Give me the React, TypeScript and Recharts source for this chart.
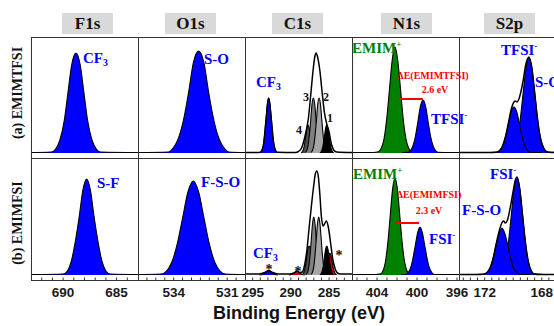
import React from "react";
import { Area, ComposedChart, Line, XAxis, YAxis } from "recharts";

const BLUE = "#0000ff";
const GREEN = "#008000";
const RED = "#ff0000";
const SERIF = '"Liberation Serif", "Times New Roman", serif';
const SANS = '"Liberation Sans", Arial, sans-serif';

// ---- axes: domains, minor ticks, labelled ticks
const f1sDomain = [683, 693];
const f1sTicks = [684, 685, 686, 687, 688, 689, 690, 691, 692];
const f1sLabels = [690, 685];
const o1sDomain = [530, 536];
const o1sTicks = [530.5, 531, 531.5, 532, 532.5, 533, 533.5, 534, 534.5, 535, 535.5];
const o1sLabels = [534, 531];
const c1sDomain = [282, 296];
const c1sTicks = [283, 284, 285, 286, 287, 288, 289, 290, 291, 292, 293, 294, 295];
const c1sLabels = [295, 290, 285];
const n1sDomain = [395.8, 406.5];
const n1sTicks = [396, 397, 398, 399, 400, 401, 402, 403, 404, 405, 406];
const n1sLabels = [404, 400, 396];
const s2pDomain = [166.3, 173.8];
const s2pTicks = [166.5, 167, 167.5, 168, 168.5, 169, 169.5, 170, 170.5, 171, 171.5, 172, 172.5, 173, 173.5];
const s2pLabels = [172, 168];

// ---- (a) EMIMTFSI
const f1sTopE = [693, 691.1, 690.7, 690.3, 689.9, 689.55, 689.2, 688.8, 688.4, 688.05, 687.7, 687.3, 686.9, 686.5, 683];
const f1sTopI = [0.5, 1, 4, 13, 32, 60, 88, 100, 88, 60, 32, 13, 4, 1, 0.5];
const o1sTopE = [536, 534.3, 534.05, 533.75, 533.45, 533.15, 532.9, 532.6, 532.3, 532.05, 531.75, 531.45, 531.15, 530.9, 530];
const o1sTopI = [0.5, 1, 4.5, 14, 33, 62, 90, 102, 90, 62, 33, 14, 4.5, 1, 0.5];

const c1sTopEnvE = [296, 294.4, 294.0, 293.6, 293.25, 292.9, 292.55, 292.2, 291.8, 289.4, 289.0, 288.6, 288.3, 288.0, 287.7, 287.4, 287.1, 286.85, 286.7, 286.5, 286.2, 285.9, 285.6, 285.3, 285.0, 284.7, 284.4, 284.0, 282];
const c1sTopEnvI = [0.5, 0.5, 0.8, 7.5, 33, 55, 33, 7.5, 0.8, 0.5, 1.5, 5, 12, 22, 35, 58, 82, 97, 100, 96, 82, 60, 40, 29, 21, 9, 3, 1, 0.5];
const c1sTopCf3E = [293.95, 293.78, 293.6, 293.43, 293.25, 293.08, 292.9, 292.73, 292.55, 292.38, 292.2, 292.03, 291.85];
const c1sTopCf3I = [0.6, 2.4, 7.4, 18, 33, 49, 55, 49, 33, 18, 7.4, 2.4, 0.6];
const c1sTop4E = [288.65, 288.5, 288.35, 288.2, 288.05, 287.9, 287.75, 287.6, 287.45, 287.3, 287.15, 287.0, 286.85];
const c1sTop4I = [0.3, 1.2, 3.8, 9.1, 17, 25, 28, 25, 17, 9.1, 3.8, 1.2, 0.3];
const c1sTop3E = [288.1, 287.93, 287.75, 287.58, 287.4, 287.23, 287.05, 286.88, 286.7, 286.53, 286.35, 286.18, 286.0];
const c1sTop3I = [0.6, 2.4, 7.4, 18, 33, 49, 55, 49, 33, 18, 7.4, 2.4, 0.6];
const c1sTop2E = [287.35, 287.18, 287.0, 286.83, 286.65, 286.48, 286.3, 286.13, 285.95, 285.78, 285.6, 285.43, 285.25];
const c1sTop2I = [0.6, 2.4, 7.4, 18, 33, 49, 55, 49, 33, 18, 7.4, 2.4, 0.6];
const c1sTop1E = [286.2, 286.05, 285.9, 285.75, 285.6, 285.45, 285.3, 285.15, 285.0, 284.85, 284.7, 284.55, 284.4];
const c1sTop1I = [0.3, 1.2, 3.8, 9.1, 17, 25, 28, 25, 17, 9.1, 3.8, 1.2, 0.3];

const n1sTopEmimE = [406.5, 404.4, 403.85, 403.58, 403.3, 403.03, 402.75, 402.48, 402.2, 401.93, 401.65, 401.38, 401.1, 400.83, 400.55, 400.0];
const n1sTopEmimI = [0.5, 0.5, 1.2, 4.7, 14, 34, 64, 93, 106, 93, 64, 34, 14, 4.7, 1.2, 0.5];
const n1sTopAnionE = [401.5, 400.9, 400.65, 400.4, 400.15, 399.9, 399.65, 399.4, 399.15, 398.9, 398.65, 398.4, 398.15, 397.9, 397.3, 395.8];
const n1sTopAnionI = [0.5, 0.6, 2.3, 7.2, 17, 32, 47, 53, 47, 32, 17, 7.2, 2.3, 0.6, 0.5, 0.5];
const n1sTopDeltaE = [401.8, 399.4];
const n1sTopDeltaI = [54, 54];

const s2pTopMainE = [170.9, 170.16, 169.95, 169.74, 169.53, 169.32, 169.11, 168.9, 168.69, 168.48, 168.27, 168.06, 167.85, 167.64, 166.9];
const s2pTopMainI = [0.5, 1, 4.2, 13, 31, 58, 84, 95, 84, 58, 31, 13, 4.2, 1, 0.5];
const s2pTopLeftE = [171.9, 171.15, 170.95, 170.75, 170.55, 170.35, 170.15, 169.95, 169.75, 169.55, 169.35, 169.15, 168.95, 168.75, 168.0];
const s2pTopLeftI = [0.5, 0.5, 2, 6.2, 15, 28, 41, 46, 41, 28, 15, 6.2, 2, 0.5, 0.5];
const s2pTopEnvE = [173.8, 171.6, 171.15, 170.95, 170.75, 170.55, 170.35, 170.15, 169.95, 169.85, 169.74, 169.6, 169.45, 169.32, 169.11, 168.9, 168.69, 168.48, 168.27, 168.06, 167.85, 167.64, 167.3, 166.3];
const s2pTopEnvI = [0.5, 0.5, 1, 2.5, 7, 16, 29, 43, 51, 52, 51, 54, 62, 71, 89, 96, 85, 58, 31, 13, 4.5, 1.2, 0.5, 0.5];

// ---- (b) EMIMFSI
const f1sBotE = [693, 690.0, 689.6, 689.25, 688.9, 688.5, 688.15, 687.8, 687.45, 687.1, 686.7, 686.35, 686.0, 685.6, 683];
const f1sBotI = [0.5, 1, 4, 13, 31, 58, 85, 96, 85, 58, 31, 13, 4, 1, 0.5];
const o1sBotE = [536, 534.7, 534.4, 534.1, 533.8, 533.5, 533.2, 532.9, 532.6, 532.3, 532.0, 531.7, 531.4, 531.1, 530];
const o1sBotI = [0.5, 1, 4, 13, 31, 57, 83, 94, 83, 57, 31, 13, 4, 1, 0.5];

const c1sBotEnvE = [296, 294.2, 293.4, 292.9, 292.4, 291.6, 290.2, 289.6, 289.2, 288.8, 288.5, 288.2, 287.9, 287.6, 287.3, 287.0, 286.8, 286.6, 286.4, 286.2, 286.0, 285.8, 285.6, 285.35, 285.1, 284.8, 284.5, 284.2, 283.9, 283.5, 282];
const c1sBotEnvI = [1, 1, 2.5, 4.5, 2.5, 1, 1, 2, 4, 2.5, 3, 10, 25, 48, 70, 90, 101, 104, 98, 80, 58, 49, 51, 54, 48, 32, 15, 6, 2, 1, 1];
const c1sBotCf3E = [294.1, 293.7, 293.3, 292.9, 292.5, 292.1, 291.7];
const c1sBotCf3I = [0, 0.5, 2.4, 4, 2.4, 0.5, 0];
const c1sBotSmallRedE = [290.25, 289.9, 289.55, 289.2, 288.85, 288.5, 288.15];
const c1sBotSmallRedI = [0, 0.5, 2.1, 3.5, 2.1, 0.5, 0];
const c1sBotDarkE = [288.56, 288.4, 288.24, 288.08, 287.92, 287.76, 287.6, 287.44, 287.28, 287.12, 286.96, 286.8, 286.64];
const c1sBotDarkI = [0.3, 1.3, 3.9, 9.4, 18, 26, 29, 26, 18, 9.4, 3.9, 1.3, 0.3];
const c1sBotMidE = [287.99, 287.83, 287.66, 287.5, 287.33, 287.17, 287.0, 286.84, 286.67, 286.5, 286.34, 286.17, 286.01];
const c1sBotMidI = [0.6, 2.6, 7.8, 19, 35, 51, 58, 51, 35, 19, 7.8, 2.6, 0.6];
const c1sBotLightE = [287.34, 287.18, 287.01, 286.85, 286.68, 286.52, 286.35, 286.19, 286.02, 285.86, 285.69, 285.53, 285.36];
const c1sBotLightI = [0.6, 2.6, 7.8, 19, 35, 51, 58, 51, 35, 19, 7.8, 2.6, 0.6];
const c1sBotRedE = [285.8, 285.65, 285.5, 285.35, 285.2, 285.05, 284.9, 284.75, 284.6, 284.45, 284.3, 284.15, 284.0];
const c1sBotRedI = [0.2, 1, 3, 7.1, 13, 19, 22, 19, 13, 7.1, 3, 1, 0.2];
const c1sBotBlackE = [286.2, 286.05, 285.9, 285.75, 285.6, 285.45, 285.3, 285.15, 285.0, 284.85, 284.7, 284.55, 284.4];
const c1sBotBlackI = [0.3, 1.3, 3.9, 9.4, 18, 26, 29, 26, 18, 9.4, 3.9, 1.3, 0.3];

const n1sBotEmimE = [406.5, 404.2, 403.64, 403.4, 403.16, 402.92, 402.68, 402.44, 402.2, 401.96, 401.72, 401.48, 401.24, 401.0, 400.76, 400.2];
const n1sBotEmimI = [0.5, 0.5, 1.1, 4.3, 13, 32, 59, 86, 97, 86, 59, 32, 13, 4.3, 1.1, 0.5];
const n1sBotAnionE = [401.6, 401.14, 400.9, 400.66, 400.42, 400.18, 399.94, 399.7, 399.46, 399.22, 398.98, 398.74, 398.5, 398.26, 397.7, 395.8];
const n1sBotAnionI = [0.5, 0.5, 2.1, 6.5, 16, 29, 42, 48, 42, 29, 16, 6.5, 2.1, 0.5, 0.5, 0.5];
const n1sBotDeltaE = [402.1, 399.8];
const n1sBotDeltaI = [52, 52];

const s2pBotMainE = [171.7, 170.94, 170.74, 170.54, 170.34, 170.14, 169.94, 169.74, 169.54, 169.34, 169.14, 168.94, 168.74, 168.54, 167.8];
const s2pBotMainI = [0.5, 1.1, 4.3, 13, 32, 59, 86, 98, 86, 59, 32, 13, 4.3, 1.1, 0.5];
const s2pBotLeftE = [172.8, 172.05, 171.84, 171.63, 171.42, 171.21, 171.0, 170.79, 170.58, 170.37, 170.16, 169.95, 169.74, 169.53, 168.8];
const s2pBotLeftI = [0.5, 0.5, 2.1, 6.3, 15, 29, 41, 47, 41, 29, 15, 6.3, 2.1, 0.5, 0.5];
const s2pBotEnvE = [173.8, 172.6, 172.05, 171.84, 171.63, 171.42, 171.21, 171.0, 170.8, 170.68, 170.55, 170.4, 170.2, 170.0, 169.85, 169.74, 169.54, 169.34, 169.14, 168.94, 168.74, 168.54, 168.1, 166.3];
const s2pBotEnvI = [0.5, 0.5, 1, 2.5, 7, 16, 30, 43, 52, 54, 52, 55, 68, 84, 95, 98, 86, 59, 32, 13, 4.3, 1.1, 0.5, 0.5];

const rows = (e: number[], v: number[]) => e.map((x, i) => ({ e: x, v: v[i] }));

type Peak = { e: number[]; v: number[]; fill: string };
type Trace = { e: number[]; v: number[]; color: string; width: number; curve?: "monotone" | "linear" };

function BottomTick(props: any) {
  const { x, y, payload, labels } = props;
  const show = labels.includes(payload.value);
  return (
    <g>
      <line x1={x} y1={y} x2={x} y2={y - 2.5} stroke="#333" strokeWidth={1} />
      {show && (
        <text x={x} y={y + 17} textAnchor="middle" fontFamily={SANS} fontWeight="bold" fontSize={13.5} fill="#1a1a1a">
          {payload.value}
        </text>
      )}
    </g>
  );
}

function TopTick(props: any) {
  const { x, y } = props;
  return <line x1={x} y1={y} x2={x} y2={y + 2.5} stroke="#333" strokeWidth={1} />;
}

function Panel({
  left, top, h, yMax, domain, ticks, labels, peaks, traces,
}: {
  left: number; top: number; h: number; yMax: number; domain: number[]; ticks: number[];
  labels: number[]; peaks: Peak[]; traces: Trace[];
}) {
  const axisH = labels.length ? 30 : 0;
  return (
    <div style={{ position: "absolute", left, top }}>
      <ComposedChart width={107} height={h + axisH} margin={{ top: 0, right: 0, bottom: 0, left: 0 }}>
        <XAxis
          dataKey="e" type="number" domain={domain} reversed allowDataOverflow ticks={ticks} interval={0}
          height={axisH} axisLine={false} tickLine={false} tickSize={0} tickMargin={0}
          tick={(p: any) => <BottomTick {...p} labels={labels} />}
        />
        <XAxis
          xAxisId="top" orientation="top" dataKey="e" type="number" domain={domain} reversed allowDataOverflow
          ticks={ticks} interval={0} height={0} axisLine={false} tickLine={false} tickSize={0} tickMargin={0}
          tick={(p: any) => <TopTick {...p} />}
        />
        <YAxis hide type="number" domain={[-5, yMax]} allowDataOverflow />
        {peaks.map((p, i) => (
          <Area
            key={"a" + i} data={rows(p.e, p.v)} dataKey="v" type="monotone" baseValue={0}
            fill={p.fill} fillOpacity={1} stroke="#000" strokeWidth={1.1}
            dot={false} activeDot={false} isAnimationActive={false}
          />
        ))}
        {traces.map((t, i) => (
          <Line
            key={"l" + i} data={rows(t.e, t.v)} dataKey="v" type={t.curve ?? "monotone"}
            stroke={t.color} strokeWidth={t.width} dot={false} activeDot={false} isAnimationActive={false}
          />
        ))}
      </ComposedChart>
    </div>
  );
}

function Note({
  x, y, children, color = BLUE, size = 15, center = false, font = SERIF,
}: { x: number; y: number; children: React.ReactNode; color?: string; size?: number; center?: boolean; font?: string }) {
  return (
    <div
      style={{
        position: "absolute", left: x, top: y, transform: `translate(${center ? "-50%" : "0"}, -50%)`,
        color, fontSize: size, fontFamily: font, fontWeight: "bold", lineHeight: 1, whiteSpace: "nowrap",
      }}
    >
      {children}
    </div>
  );
}

const Sup = ({ children }: { children: React.ReactNode }) => (
  <span style={{ fontSize: "0.6em", verticalAlign: "0.75em" }}>{children}</span>
);
const Sub = ({ children }: { children: React.ReactNode }) => (
  <span style={{ fontSize: "0.65em", verticalAlign: "-0.3em" }}>{children}</span>
);

const COLS = [31, 138, 245, 352, 459];
const TITLES = ["F1s", "O1s", "C1s", "N1s", "S2p"];
const TITLE_X = [62, 165, 272, 381, 484];
const TOP_Y = 37;
const TOP_H = 121;
const BOT_Y = 158;
const BOT_H = 122;

export default function App() {
  return (
    <div style={{ position: "absolute", left: 0, top: 0, width: 554, height: 326, overflow: "hidden", background: "#fff" }}>
      <style>{".recharts-surface{overflow:visible}"}</style>
      {TITLES.map((t, i) => (
        <div
          key={t}
          style={{
            position: "absolute", left: TITLE_X[i], top: 13, width: 51, height: 21, background: "#d9d9d9",
            fontFamily: SERIF, fontWeight: "bold", fontSize: 17, lineHeight: "21px", textAlign: "center", color: "#111",
          }}
        >
          {t}
        </div>
      ))}

      {/* row (a) */}
      <Panel left={COLS[0]} top={TOP_Y} h={TOP_H} yMax={116} domain={f1sDomain} ticks={f1sTicks} labels={[]}
        peaks={[{ e: f1sTopE, v: f1sTopI, fill: BLUE }]} traces={[]} />
      <Panel left={COLS[1]} top={TOP_Y} h={TOP_H} yMax={116} domain={o1sDomain} ticks={o1sTicks} labels={[]}
        peaks={[{ e: o1sTopE, v: o1sTopI, fill: BLUE }]} traces={[]} />
      <Panel left={COLS[2]} top={TOP_Y} h={TOP_H} yMax={116} domain={c1sDomain} ticks={c1sTicks} labels={[]}
        peaks={[
          { e: c1sTopCf3E, v: c1sTopCf3I, fill: BLUE },
          { e: c1sTop4E, v: c1sTop4I, fill: "#4d4d4d" },
          { e: c1sTop3E, v: c1sTop3I, fill: "#7f7f7f" },
          { e: c1sTop2E, v: c1sTop2I, fill: "#a6a6a6" },
          { e: c1sTop1E, v: c1sTop1I, fill: "#000" },
        ]}
        traces={[{ e: c1sTopEnvE, v: c1sTopEnvI, color: "#000", width: 1.5 }]} />
      <Panel left={COLS[3]} top={TOP_Y} h={TOP_H} yMax={116} domain={n1sDomain} ticks={n1sTicks} labels={[]}
        peaks={[
          { e: n1sTopEmimE, v: n1sTopEmimI, fill: GREEN },
          { e: n1sTopAnionE, v: n1sTopAnionI, fill: BLUE },
        ]}
        traces={[{ e: n1sTopDeltaE, v: n1sTopDeltaI, color: RED, width: 2, curve: "linear" }]} />
      <Panel left={COLS[4]} top={TOP_Y} h={TOP_H} yMax={116} domain={s2pDomain} ticks={s2pTicks} labels={[]}
        peaks={[
          { e: s2pTopMainE, v: s2pTopMainI, fill: BLUE },
          { e: s2pTopLeftE, v: s2pTopLeftI, fill: BLUE },
        ]}
        traces={[{ e: s2pTopEnvE, v: s2pTopEnvI, color: "#000", width: 1.5 }]} />

      {/* row (b) */}
      <Panel left={COLS[0]} top={BOT_Y} h={BOT_H} yMax={117} domain={f1sDomain} ticks={f1sTicks} labels={f1sLabels}
        peaks={[{ e: f1sBotE, v: f1sBotI, fill: BLUE }]} traces={[]} />
      <Panel left={COLS[1]} top={BOT_Y} h={BOT_H} yMax={117} domain={o1sDomain} ticks={o1sTicks} labels={o1sLabels}
        peaks={[{ e: o1sBotE, v: o1sBotI, fill: BLUE }]} traces={[]} />
      <Panel left={COLS[2]} top={BOT_Y} h={BOT_H} yMax={117} domain={c1sDomain} ticks={c1sTicks} labels={c1sLabels}
        peaks={[
          { e: c1sBotCf3E, v: c1sBotCf3I, fill: BLUE },
          { e: c1sBotSmallRedE, v: c1sBotSmallRedI, fill: "#d00000" },
          { e: c1sBotDarkE, v: c1sBotDarkI, fill: "#4d4d4d" },
          { e: c1sBotMidE, v: c1sBotMidI, fill: "#808080" },
          { e: c1sBotLightE, v: c1sBotLightI, fill: "#a6a6a6" },
          { e: c1sBotRedE, v: c1sBotRedI, fill: "#d00000" },
          { e: c1sBotBlackE, v: c1sBotBlackI, fill: "#000" },
        ]}
        traces={[{ e: c1sBotEnvE, v: c1sBotEnvI, color: "#000", width: 1.5 }]} />
      <Panel left={COLS[3]} top={BOT_Y} h={BOT_H} yMax={117} domain={n1sDomain} ticks={n1sTicks} labels={n1sLabels}
        peaks={[
          { e: n1sBotEmimE, v: n1sBotEmimI, fill: GREEN },
          { e: n1sBotAnionE, v: n1sBotAnionI, fill: BLUE },
        ]}
        traces={[{ e: n1sBotDeltaE, v: n1sBotDeltaI, color: RED, width: 2, curve: "linear" }]} />
      <Panel left={COLS[4]} top={BOT_Y} h={BOT_H} yMax={117} domain={s2pDomain} ticks={s2pTicks} labels={s2pLabels}
        peaks={[
          { e: s2pBotMainE, v: s2pBotMainI, fill: BLUE },
          { e: s2pBotLeftE, v: s2pBotLeftI, fill: BLUE },
        ]}
        traces={[{ e: s2pBotEnvE, v: s2pBotEnvI, color: "#000", width: 1.5 }]} />

      {/* panel frames */}
      {COLS.map((x) => (
        <React.Fragment key={x}>
          <div style={{ position: "absolute", left: x, top: TOP_Y, width: 108, height: TOP_H + 1, border: "1px solid #333", boxSizing: "border-box" }} />
          <div style={{ position: "absolute", left: x, top: BOT_Y, width: 108, height: BOT_H + 1, border: "1px solid #333", boxSizing: "border-box" }} />
        </React.Fragment>
      ))}

      {/* row labels */}
      <div style={{ position: "absolute", left: 18, top: 93, transform: "translate(-50%, -50%) rotate(-90deg)", fontFamily: SERIF, fontWeight: "bold", fontSize: 14, whiteSpace: "nowrap", color: "#111" }}>
        (a) EMIMTFSI
      </div>
      <div style={{ position: "absolute", left: 18, top: 223, transform: "translate(-50%, -50%) rotate(-90deg)", fontFamily: SERIF, fontWeight: "bold", fontSize: 14, whiteSpace: "nowrap", color: "#111" }}>
        (b) EMIMFSI
      </div>

      {/* peak labels, row (a) */}
      <Note x={83} y={59}>CF<Sub>3</Sub></Note>
      <Note x={204} y={59}>S-O</Note>
      <Note x={256} y={83}>CF<Sub>3</Sub></Note>
      <Note x={306} y={97} color="#111" size={12} center>3</Note>
      <Note x={326} y={97} color="#111" size={12} center>2</Note>
      <Note x={299} y={130} color="#111" size={12} center>4</Note>
      <Note x={330} y={118} color="#111" size={12} center>1</Note>
      <Note x={352} y={48} color={GREEN}>EMIM<Sup>+</Sup></Note>
      <Note x={433} y={76} color={RED} size={10} center>ΔE(EMIMTFSI)</Note>
      <Note x={435} y={90} color={RED} size={10} center>2.6 eV</Note>
      <Note x={431} y={119}>TFSI<Sup>-</Sup></Note>
      <Note x={501} y={50}>TFSI<Sup>-</Sup></Note>
      <Note x={535} y={82}>S-O</Note>

      {/* peak labels, row (b) */}
      <Note x={97} y={183}>S-F</Note>
      <Note x={201} y={182}>F-S-O</Note>
      <Note x={253} y={254}>CF<Sub>3</Sub></Note>
      <Note x={269} y={270} color="#111" size={14} center>*</Note>
      <Note x={298} y={272} color="#111" size={14} center>*</Note>
      <Note x={339} y={256} color="#111" size={14} center>*</Note>
      <Note x={353} y={174} color={GREEN}>EMIM<Sup>+</Sup></Note>
      <Note x={429} y={195} color={RED} size={10} center>ΔE(EMIMFSI)</Note>
      <Note x={429} y={211} color={RED} size={10} center>2.3 eV</Note>
      <Note x={429} y={239}>FSI<Sup>-</Sup></Note>
      <Note x={490} y={174}>FSI<Sup>-</Sup></Note>
      <Note x={462} y={210}>F-S-O</Note>

      <div style={{ position: "absolute", left: 299, top: 313, transform: "translate(-50%, -50%)", fontFamily: SANS, fontWeight: "bold", fontSize: 18, whiteSpace: "nowrap", color: "#111" }}>
        Binding Energy (eV)
      </div>
    </div>
  );
}
